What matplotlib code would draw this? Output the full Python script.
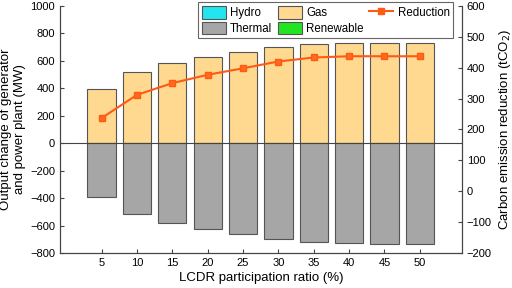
import matplotlib
matplotlib.use("Agg")
import matplotlib.pyplot as plt
from matplotlib.patches import Patch
from matplotlib.lines import Line2D
import numpy as np

plt.rcParams['font.family'] = ['Liberation Sans', 'DejaVu Sans']
plt.rcParams['font.size'] = 8

ratios = ['5', '10', '15', '20', '25', '30', '35', '40', '45', '50']
gas = [396, 522, 586, 628, 664, 700, 722, 731, 732, 732]
thermal = [-392, -517, -582, -626, -662, -700, -722, -730, -731, -731]
reduction = [237, 312, 350, 377, 398, 420, 433, 437, 437, 437]

fig = plt.figure(figsize=(5.12, 2.88), dpi=100)
ax = fig.add_axes([0.117, 0.1215, 0.785, 0.858])
x = np.arange(len(ratios))
ec = '#555555'
ax.bar(x, gas, width=0.8, color='#FFD98F', edgecolor=ec, linewidth=0.8, zorder=2)
ax.bar(x, thermal, width=0.8, color='#A6A6A6', edgecolor=ec, linewidth=0.8, zorder=2)
ax.axhline(0, color='#444444', linewidth=0.8, zorder=3)
ax.set_xlim(-1.18, 10.19)
ax.set_ylim(-800, 1000)
ax.set_yticks(range(-800, 1001, 200))
ax.set_xticks(x)
ax.set_xticklabels(ratios)
ax.set_xlabel('LCDR participation ratio (%)', fontsize=9.5, labelpad=3)
ax.set_ylabel('Output change of generator\nand power plant (MW)', fontsize=9.5,
              linespacing=1.25, labelpad=3)
ax.spines['top'].set_visible(False)
ax.tick_params(direction='in', length=3, color='#444444')

ax2 = ax.twinx()
ax2.set_ylim(-200, 600)
ax2.set_yticks(range(-200, 601, 100))
ax2.plot(x, reduction, color='#FF5A14', linewidth=1.5, marker='s', markersize=4.5,
         markerfacecolor='#FF6A20', markeredgecolor='#FF5A14', zorder=5)
ax2.set_ylabel('Carbon emission reduction (tCO$_2$)', fontsize=9.5, labelpad=4)
ax2.spines['top'].set_visible(False)
ax2.tick_params(direction='in', length=3, color='#444444')
for a in (ax, ax2):
    for s in a.spines.values():
        s.set_color('#444444')

handles = [
    Patch(facecolor='#22E5F0', edgecolor=ec, linewidth=0.8),
    Patch(facecolor='#A6A6A6', edgecolor=ec, linewidth=0.8),
    Patch(facecolor='#FFD98F', edgecolor=ec, linewidth=0.8),
    Patch(facecolor='#22E522', edgecolor=ec, linewidth=0.8),
    Line2D([], [], color='#FF5A14', linewidth=1.5, marker='s', markersize=4.5),
]
labels = ['Hydro', 'Thermal', 'Gas', 'Renewable', 'Reduction']
leg = ax2.legend(handles, labels, ncol=3, loc='upper right', bbox_to_anchor=(0.978, 1.014),
                 borderaxespad=0, fancybox=False, edgecolor='#666666', framealpha=1,
                 borderpad=0.3, labelspacing=0.2, handlelength=2.1, handleheight=1.35,
                 columnspacing=0.5, handletextpad=0.35, prop={'size': 8.3})
leg.get_frame().set_linewidth(0.8)

fig.savefig('out.png', dpi=100)
